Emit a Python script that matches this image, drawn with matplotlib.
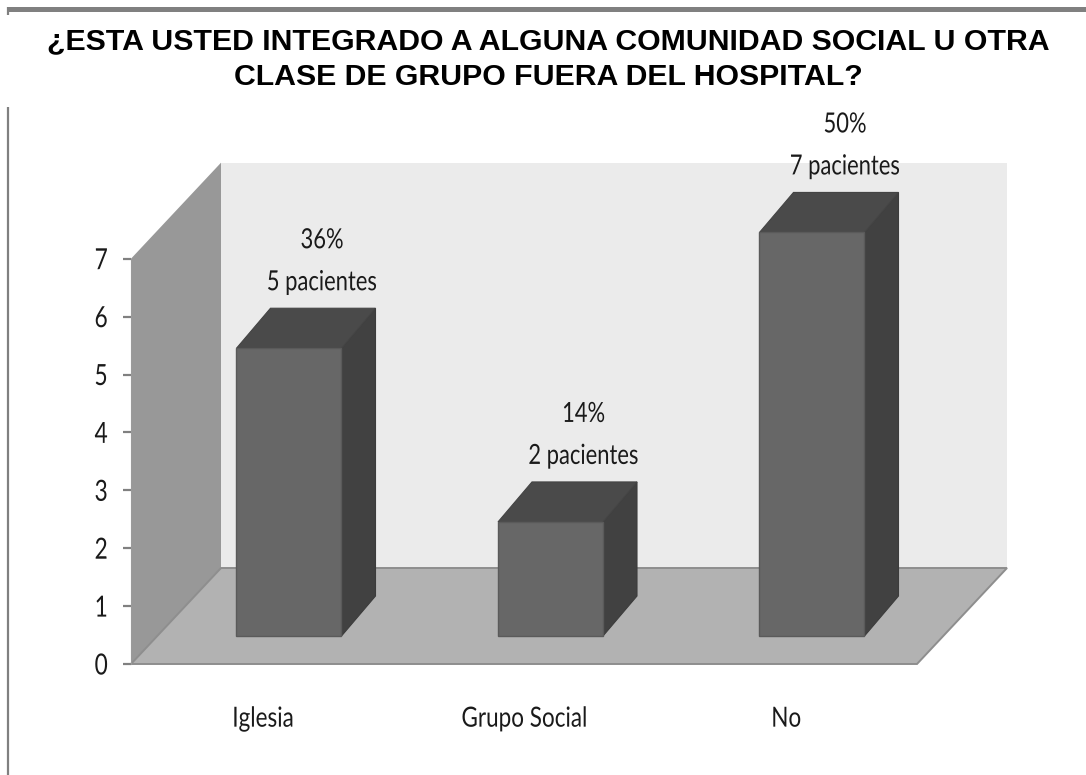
import matplotlib
matplotlib.use("Agg")
import matplotlib.pyplot as plt
from matplotlib.patches import Polygon
from matplotlib.lines import Line2D
from matplotlib.patheffects import AbstractPathEffect
from matplotlib.transforms import Affine2D
import numpy as np

categories = ["Iglesia", "Grupo Social", "No"]
values = [5, 2, 7]
percents = ["36%", "14%", "50%"]
counts = ["5 pacientes", "2 pacientes", "7 pacientes"]
y_ticks = [0, 1, 2, 3, 4, 5, 6, 7]
title_lines = ["¿ESTA USTED INTEGRADO A ALGUNA COMUNIDAD SOCIAL U OTRA",
               "CLASE DE GRUPO FUERA DEL HOSPITAL?"]

W, H = 1086, 775
PX_X = 261.5   # pixels per category
PX_Y = 57.9    # pixels per unit
X0, Y0 = 289, 664  # pixel of category 0 / value 0
LABEL_FONT = "Lato"


class Condense(AbstractPathEffect):
    """Narrow a text horizontally about its own centre."""
    def __init__(self, sx):
        super().__init__()
        self.sx = sx

    def draw_path(self, renderer, gc, tpath, affine, rgbFace=None):
        a, b, c, d, e, f = affine.to_values()
        ext = tpath.get_extents()
        centre = (ext.x0 + ext.x1) / 2 * a
        new = Affine2D.from_values(a * self.sx, b, c, d, e + centre * (1 - self.sx), f)
        renderer.draw_path(gc, tpath, new, rgbFace)


fig = plt.figure(figsize=(W / 100, H / 100), dpi=100, facecolor="white")
ax = fig.add_axes([0, 0, 1, 1], facecolor="none")
ax.set_xlim(-X0 / PX_X, (W - X0) / PX_X)
ax.set_ylim(-(H - Y0) / PX_Y, Y0 / PX_Y)

dx = lambda p: p / PX_X
dy = lambda p: p / PX_Y

# scene extents expressed relative to the axis origin
wall_x = -dx(158)
floor_right = dx(628)
deep_x, deep_y = dx(90), dy(96)
top = y_ticks[-1]

# left wall
ax.add_patch(Polygon([(wall_x, 0), (wall_x, top), (wall_x + deep_x, top + deep_y),
                      (wall_x + deep_x, deep_y)], fc="#989898", ec="none", zorder=1))
# back wall
ax.add_patch(Polygon([(wall_x + deep_x, deep_y), (wall_x + deep_x, top + deep_y),
                      (floor_right + deep_x, top + deep_y), (floor_right + deep_x, deep_y)],
                     fc="#ebebeb", ec="none", zorder=1))
# floor
ax.add_patch(Polygon([(wall_x, 0), (floor_right, 0), (floor_right + deep_x, deep_y),
                      (wall_x + deep_x, deep_y)], fc="#b2b2b2", ec="#8e8e8e", lw=1.4, zorder=2))

# bars
half = dx(52.5)
bar_dx, bar_dy = dx(34), dy(40)
base = dy(28)
for i, v in enumerate(values):
    l, r = i - half, i + half
    b, t = base, base + v - 0.03
    ax.add_patch(Polygon([(r, b), (r, t), (r + bar_dx, t + bar_dy), (r + bar_dx, b + bar_dy)],
                         fc="#414141", ec="#3c3c3c", lw=0.8, zorder=3))
    ax.add_patch(Polygon([(l, t), (r, t), (r + bar_dx, t + bar_dy), (l + bar_dx, t + bar_dy)],
                         fc="#4a4a4a", ec="#444444", lw=0.8, zorder=3))
    ax.add_patch(Polygon([(l, b), (r, b), (r, t), (l, t)],
                         fc="#676767", ec="#5a5a5a", lw=1.0, zorder=4))
    for label, off in ((percents[i], 108), (counts[i], 66)):
        ax.text(i + dx(33), t + dy(off), label, ha="center", va="center",
                fontsize=20, family=LABEL_FONT, color="#1a1a1a", zorder=5,
                path_effects=[Condense(0.79)])

# axes
for s in ("top", "right"):
    ax.spines[s].set_visible(False)
ax.spines["left"].set_position(("data", wall_x))
ax.spines["left"].set_bounds(0, top)
ax.spines["left"].set_color("#9a9a9a")
ax.spines["bottom"].set_visible(False)
ax.spines["bottom"].set_position(("data", 0))
ax.set_yticks(y_ticks)
ax.set_xticks(np.arange(len(categories)) - dx(26), categories)
ax.tick_params(axis="y", length=6, width=1.6, color="#808080", pad=9.4, labelsize=21,
               labelcolor="#1a1a1a")
ax.tick_params(axis="x", length=0, pad=30, labelsize=20, labelcolor="#1a1a1a")
for lab in ax.get_yticklabels():
    lab.set_family(LABEL_FONT)
    lab.set_path_effects([Condense(0.78)])
for lab in ax.get_xticklabels():
    lab.set_family(LABEL_FONT)
    lab.set_path_effects([Condense(0.81)])

# page rules
def line(xp, yp, lw):
    fig.add_artist(Line2D(np.array(xp) / W, 1 - np.array(yp) / H, color="#808080", lw=lw,
                          solid_capstyle="butt"))
line([7, W], [9, 9], 3.6)
line([8, 8], [7, 15], 1.6)
line([8, 8], [107, H], 1.6)

# title
for txt, yp in zip(title_lines, (41, 77)):
    fig.text(548 / W, 1 - yp / H, txt, ha="center", va="center", fontsize=21.8,
             fontweight="bold", family="Liberation Sans", color="black")

fig.savefig("out.png", dpi=100)
